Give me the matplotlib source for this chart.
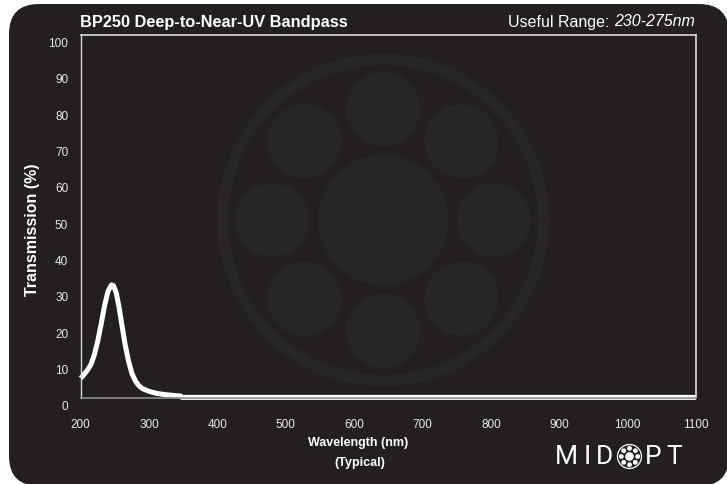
import matplotlib
matplotlib.use("Agg")
import matplotlib.pyplot as plt
import matplotlib.transforms as mtransforms
from matplotlib.patches import FancyBboxPatch, Circle
import numpy as np

# ---- data ----
wavelength = [200, 205, 210, 215, 220, 225, 230, 235, 240, 245, 248, 252, 256, 260,
              265, 270, 275, 280, 285, 290, 300, 310, 320, 330, 340, 346, 348,
              400, 500, 600, 700, 800, 900, 1000, 1100]
transmission = [5.5, 6.6, 7.8, 9.3, 12.0, 15.8, 20.5, 25.6, 29.5, 31.2, 31.0, 29.0, 25.2, 20.5,
                14.8, 10.2, 6.8, 4.8, 3.5, 2.7, 1.9, 1.4, 1.1, 0.9, 0.7, 0.65, 0.25,
                0.25, 0.25, 0.25, 0.25, 0.25, 0.25, 0.25, 0.25]
x_ticks = [200, 300, 400, 500, 600, 700, 800, 900, 1000, 1100]
y_ticks = [0, 10, 20, 30, 40, 50, 60, 70, 80, 90, 100]
title = "BP250 Deep-to-Near-UV Bandpass"
range_label = "Useful Range: "
range_value = "230-275nm"
y_label = "Transmission (%)"
x_label = ["Wavelength (nm)", "(Typical)"]
logo_letters = ["M", "I", "D", "P", "T"]

W, H = 727, 484
BG = "#231f20"
WM = "#282526"
plt.rcParams['font.family'] = ['Liberation Sans', 'DejaVu Sans']

fig = plt.figure(figsize=(W / 100, H / 100), dpi=100, facecolor="white")

# background / watermark axes in pixel coordinates
bg = fig.add_axes([0, 0, 1, 1], zorder=0)
bg.set_xlim(0, W)
bg.set_ylim(H, 0)
bg.axis("off")
bg.add_patch(FancyBboxPatch((9 + 30, 4 + 30), W - 9 - 60 + 2, H - 4 - 60 + 2,
                            boxstyle="round,pad=30", fc=BG, ec="none"))
cx, cy = 383, 220
bg.add_patch(Circle((cx, cy), 160.5, fill=False, ec=WM, lw=8))
bg.add_patch(Circle((cx, cy), 65, fc=WM, ec="none"))
for a in np.arange(8) * np.pi / 4:
    bg.add_patch(Circle((cx + 111 * np.cos(a), cy - 111 * np.sin(a)), 37, fc=WM, ec="none"))

# MIDOPT logo
for ch, xc in zip(logo_letters, [566, 587.5, 604, 653, 674]):
    bg.text(xc, 457, ch, color="white", fontsize=19, family=["Roboto", "DejaVu Sans"],
            fontweight="normal", ha="center", va="center")
lx, ly = 629.5, 456.5
bg.add_patch(Circle((lx, ly), 12, fill=False, ec="white", lw=0.9))
bg.add_patch(Circle((lx, ly), 4.3, fc="white", ec="none"))
for a in np.arange(8) * np.pi / 4:
    bg.add_patch(Circle((lx + 8.2 * np.cos(a), ly - 8.2 * np.sin(a)), 2.4, fc="white", ec="none"))

# main axes
left, right, top, bottom = 80.7, 696, 35, 398.3
ax = fig.add_axes([left / W, 1 - bottom / H, (right - left) / W, (bottom - top) / H], zorder=1)
ax.patch.set_alpha(0)
ax.plot(wavelength, transmission, color="white", lw=3.6, solid_capstyle="butt",
        solid_joinstyle="round", clip_on=False)
ax.set_xlim(200, 1100)
ax.set_ylim(0, 100)
ax.set_xticks(x_ticks)
ax.set_yticks(y_ticks)
ax.tick_params(length=0, colors="#e8e8e8", labelsize=8.5)
ax.tick_params(axis="x", pad=15)
ax.tick_params(axis="y", pad=9)
ax.spines["left"].set_color("#d8d8d8")
ax.spines["left"].set_linewidth(1.0)
ax.spines["top"].set_color("#ececec")
ax.spines["right"].set_color("#ececec")
ax.spines["top"].set_linewidth(1.1)
ax.spines["right"].set_linewidth(1.1)
ax.spines["bottom"].set_color("#8c8c8c")
ax.spines["bottom"].set_linewidth(1.2)

off = mtransforms.ScaledTranslation(0, -0.075, fig.dpi_scale_trans)
for lab in ax.get_yticklabels():
    lab.set_transform(lab.get_transform() + off)

# texts
fig.text(80 / W, 1 - 22 / H, title, color="white", fontsize=11.8, fontweight="bold",
         ha="left", va="center")
t_it = fig.text(695 / W, 1 - 22 / H, range_value, color="white", fontsize=11.5,
                style="italic", ha="right", va="center")
fig.canvas.draw()
r = fig.canvas.get_renderer()
bb = t_it.get_window_extent(r)
fig.text(bb.x0 / W, 1 - 22 / H, range_label, color="white", fontsize=11.5,
         ha="right", va="center")
fig.text(33 / W, 1 - 230 / H, y_label, color="white", fontsize=11.5, fontweight="bold",
         rotation=90, ha="center", va="center")
fig.text(358 / W, 1 - 443 / H, x_label[0], color="white", fontsize=9, fontweight="bold",
         ha="center", va="center")
fig.text(360 / W, 1 - 463 / H, x_label[1], color="white", fontsize=9, fontweight="bold",
         ha="center", va="center")

fig.savefig("out.png", dpi=100, facecolor="white")
